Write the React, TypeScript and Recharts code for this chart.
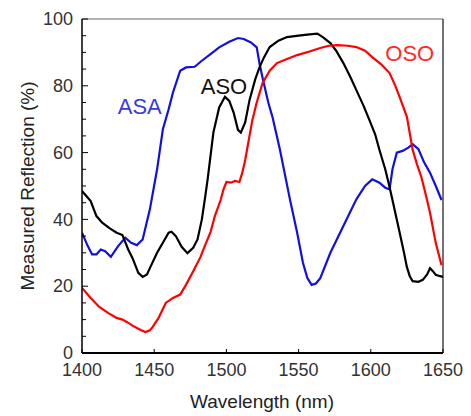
import { LineChart, Line, XAxis, YAxis, ReferenceLine, ReferenceDot, Label } from 'recharts'

// ASA (blue)
const asaX = [1400, 1404, 1407, 1410, 1413, 1416, 1420, 1425, 1430, 1434, 1438, 1442, 1447, 1452, 1456, 1460, 1463, 1468, 1472, 1478, 1483, 1489, 1495, 1502, 1508, 1512, 1517, 1521, 1523, 1525, 1529, 1532, 1537, 1544, 1549, 1553, 1556, 1559, 1562, 1565, 1572, 1581, 1590, 1596, 1601, 1606, 1610, 1613, 1615, 1618, 1622, 1626, 1629, 1633, 1637, 1641, 1645, 1649]
const asaY = [36, 32, 29.5, 29.5, 31, 30.5, 28.8, 32, 34.5, 33, 32.3, 34, 43, 55, 67, 73, 78, 84.5, 85.5, 85.7, 87.5, 89.5, 91.5, 93.2, 94.3, 94, 93, 91.5, 86.5, 82.5, 75, 70.5, 61, 46, 36, 27, 22.5, 20.4, 20.8, 22.4, 30, 38, 46, 50, 52, 51, 49.5, 49, 55, 60, 60.5, 61.5, 62.5, 61, 57, 54, 50, 45.8]

// ASO (black)
const asoX = [1400, 1403, 1406, 1410, 1414, 1419, 1424, 1428, 1432, 1435, 1439, 1442, 1445, 1447, 1452, 1456, 1460, 1462, 1465, 1469, 1473, 1477, 1480, 1483, 1485, 1487, 1491, 1495, 1499, 1502, 1505, 1508, 1510, 1513, 1516, 1520, 1523, 1526, 1530, 1536, 1542, 1550, 1556, 1563, 1567, 1572, 1576, 1581, 1586, 1590, 1595, 1599, 1603, 1606, 1610, 1613, 1615, 1620, 1623, 1625, 1627, 1629, 1633, 1636, 1639, 1641, 1643, 1645, 1648, 1650]
const asoY = [48.5, 47, 45.5, 41, 39, 37.4, 36, 35.3, 31, 28.4, 24, 22.8, 23.5, 25.4, 30, 33, 36, 36.3, 35, 31.8, 29.9, 31.5, 34, 40, 45.8, 52, 66, 73.5, 76.7, 75.5, 72, 66.8, 66, 69, 75.7, 82, 85.6, 88.5, 91.6, 93.5, 94.6, 95, 95.3, 95.6, 94.5, 92.8, 90.5, 86.8, 82.5, 78.7, 74, 69.8, 65.5, 60.8, 55, 49.7, 45.8, 36, 30, 25.7, 23, 21.5, 21.3, 21.9, 23.5, 25.4, 24.5, 23.4, 23, 22.8]

// OSO (red)
const osoX = [1400, 1406, 1412, 1418, 1424, 1428, 1431, 1435, 1438, 1441, 1444, 1447, 1449, 1453, 1458, 1463, 1468, 1472, 1477, 1482, 1485, 1489, 1492, 1496, 1498, 1500, 1503, 1506, 1509, 1511, 1513, 1518, 1521, 1525, 1530, 1535, 1542, 1549, 1557, 1565, 1571, 1577, 1584, 1590, 1596, 1601, 1607, 1613, 1617, 1620, 1625, 1629, 1632, 1635, 1638, 1641, 1645, 1649]
const osoY = [19.5, 16.5, 13.8, 12, 10.5, 10, 9.3, 8.2, 7.5, 6.8, 6.3, 6.8, 7.8, 10.5, 15, 16.5, 17.5, 20.4, 24.5, 28.7, 32, 36.2, 41, 45.8, 49, 51.2, 51, 51.5, 51.2, 54, 57.8, 69.8, 75, 80.8, 84.5, 86.8, 88, 89.2, 90.2, 91.3, 92, 92.2, 92, 91.6, 90.5, 88.6, 86.5, 83.8, 80, 76.6, 70.7, 60.8, 56.5, 52.7, 47.5, 42, 32.9, 26.3]

const xTicks = [1400, 1450, 1500, 1550, 1600, 1650]
const yTicks = [0, 5, 10, 15, 20, 25, 30, 35, 40, 45, 50, 55, 60, 65, 70, 75, 80, 85, 90, 95, 100]

const toPoints = (xs: number[], ys: number[]) => xs.map((x, i) => ({ x, y: ys[i] }))

const FONT = '"Liberation Sans", Arial, sans-serif'
const TICK_COLOR = '#333'

function XTick({ x, y, payload }: any) {
  return (
    <g>
      <line x1={x} x2={x} y1={y} y2={y - 4} stroke="#000" strokeWidth={1} />
      <text x={x} y={y + 23} textAnchor="middle" fontSize={18} fontFamily={FONT} fill={TICK_COLOR}>
        {payload.value}
      </text>
    </g>
  )
}

function YTick({ x, y, payload }: any) {
  const major = payload.value % 20 === 0
  return (
    <g>
      <line x1={x} x2={x + (major ? 6 : 4)} y1={y} y2={y} stroke="#000" strokeWidth={1} />
      {major && (
        <text x={x - 9} y={y} dy="0.34em" textAnchor="end" fontSize={18} fontFamily={FONT} fill={TICK_COLOR}>
          {payload.value}
        </text>
      )}
    </g>
  )
}

export default function App() {
  return (
    <div style={{ position: 'absolute', left: 0, top: 0, width: 471, height: 416, background: '#fff' }}>
      <LineChart width={471} height={416} margin={{ top: 19, right: 28, left: 0, bottom: 0 }}>
        <XAxis
          type="number"
          dataKey="x"
          domain={[1400, 1650]}
          ticks={xTicks}
          interval={0}
          allowDataOverflow
          height={63}
          tickSize={0}
          tickMargin={0}
          tick={<XTick />}
          axisLine={{ stroke: '#000', strokeWidth: 2 }}
          tickLine={false}
        >
          <Label
            content={() => (
              <text x={262} y={408} textAnchor="middle" fontSize={19} fontFamily={FONT} fill="#222">
                Wavelength (nm)
              </text>
            )}
          />
        </XAxis>
        <YAxis
          type="number"
          domain={[0, 100]}
          ticks={yTicks}
          interval={0}
          allowDataOverflow
          width={82}
          tickSize={0}
          tickMargin={0}
          tick={<YTick />}
          axisLine={{ stroke: '#000', strokeWidth: 1.5 }}
          tickLine={false}
        >
          <Label
            content={() => (
              <text
                x={27}
                y={186}
                transform="rotate(-90 27 186)"
                textAnchor="middle"
                dominantBaseline="central"
                fontSize={19}
                fontFamily={FONT}
                fill="#222"
              >
                Measured Reflection (%)
              </text>
            )}
          />
        </YAxis>
        <ReferenceLine y={100} stroke="#666" strokeWidth={1} />
        <ReferenceLine x={1650} stroke="#444" strokeWidth={1.5} />
        <Line data={toPoints(asaX, asaY)} dataKey="y" stroke="#1010e0" strokeWidth={2.2} dot={false} isAnimationActive={false} />
        <Line data={toPoints(asoX, asoY)} dataKey="y" stroke="#000" strokeWidth={2.2} dot={false} isAnimationActive={false} />
        <Line data={toPoints(osoX, osoY)} dataKey="y" stroke="#ff0000" strokeWidth={2.2} dot={false} isAnimationActive={false} />
        <ReferenceDot x={1440} y={73.8} r={0} label={{ value: 'ASA', position: 'center', fill: '#3a3ad8', fontSize: 22, fontFamily: FONT }} />
        <ReferenceDot x={1498.3} y={79.9} r={0} label={{ value: 'ASO', position: 'center', fill: '#111', fontSize: 22, fontFamily: FONT }} />
        <ReferenceDot x={1627} y={89.7} r={0} label={{ value: 'OSO', position: 'center', fill: '#ff2a2a', fontSize: 22, fontFamily: FONT }} />
      </LineChart>
    </div>
  )
}
